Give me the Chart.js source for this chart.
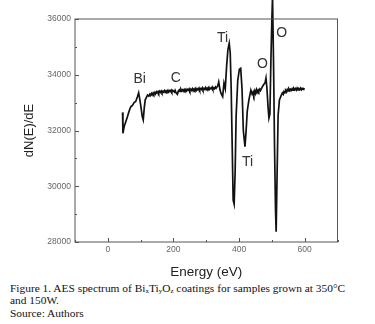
<!DOCTYPE html>
<html>
<head>
<meta charset="utf-8">
<script src="https://cdn.jsdelivr.net/npm/chart.js@4"></script>
<style>
  body { margin: 0; background: #fff; width: 375px; height: 324px; overflow: hidden; }
  #wrap { position: absolute; left: 0; top: 0; width: 375px; height: 280px; }
  #caption {
    position: absolute; left: 10px; top: 281.5px; width: 365px;
    font-family: "Liberation Serif", serif; font-size: 11.4px; line-height: 12.5px; color: #111;
  }
  #caption sub { font-size: 7px; vertical-align: -1px; line-height: 0; }
</style>
</head>
<body>
<div id="wrap"><canvas id="grafico" width="375" height="280"></canvas></div>
<div id="caption">
  Figure 1. AES spectrum of Bi<sub>x</sub>Ti<sub>y</sub>O<sub>z</sub> coatings for samples grown at 350°C<br>
  and 150W.<br>
  Source: Authors
</div>
<script>
// energy (eV) and dN(E)/dE
const energy = [45, 46, 50, 55, 60, 65, 70, 75, 80, 85, 90, 94, 97, 101, 105, 108, 111, 114, 118, 121,
  125, 128, 130, 133, 135, 138, 140, 143, 145, 148, 150, 153, 155, 158, 160, 163, 165, 168, 170, 173,
  175, 178, 180, 183, 185, 188, 190, 193, 195, 198, 200, 203, 205, 208, 212, 215, 218, 220, 223, 225,
  228, 230, 233, 235, 238, 240, 243, 245, 248, 250, 253, 255, 258, 260, 263, 265, 268, 270, 273, 275,
  278, 280, 283, 285, 288, 290, 293, 295, 298, 300, 303, 305, 308, 310, 313, 315, 318, 320, 323, 325,
  328, 330, 335, 338, 342, 346, 350, 354, 358, 362, 366, 370, 373, 376, 379, 382, 385, 388, 391, 396,
  401, 405, 409, 413, 418, 421, 425, 430, 436, 440, 443, 445, 448, 450, 453, 455, 458, 460, 463, 465,
  470, 475, 479, 482, 485, 488, 491, 494, 497, 500, 502, 505, 508, 511, 513, 516, 519, 523, 527, 532,
  535, 537, 540, 542, 545, 547, 550, 552, 555, 557, 560, 562, 565, 567, 570, 572, 575, 577, 580, 582,
  585, 587, 590, 592, 595, 597, 600];
const signal = [32650, 31900, 32150, 32320, 32500, 32700, 32850, 32900, 33000, 33040, 33200, 33350, 33150, 32850, 32500, 32380, 32800, 33100, 33200, 33270,
  33230, 33300, 33260, 33330, 33280, 33350, 33300, 33360, 33310, 33390, 33350, 33400, 33340, 33410, 33370, 33420, 33360, 33410, 33380, 33430,
  33370, 33420, 33390, 33440, 33380, 33430, 33400, 33450, 33390, 33440, 33410, 33380, 33440, 33350, 33300, 33420, 33460, 33400, 33470, 33420,
  33460, 33410, 33470, 33430, 33480, 33420, 33470, 33440, 33490, 33420, 33480, 33440, 33500, 33430, 33490, 33450, 33510, 33440, 33490, 33460,
  33520, 33450, 33500, 33470, 33530, 33460, 33510, 33480, 33540, 33470, 33520, 33490, 33550, 33480, 33520, 33500, 33560, 33490, 33530, 33500,
  33560, 33520, 33600, 33740, 33450, 33300, 33213, 33700, 33500, 34300, 34900, 35130, 34800, 33500, 31500, 29500, 29360, 30500, 32500, 33800,
  34200, 34230, 33500, 32000, 31420, 31900, 32700, 33100, 33450, 33300, 33380, 33280, 33420, 33330, 33460, 33370, 33450, 33400, 33480, 33430,
  33550, 33650, 33700, 33880, 33500, 32900, 32450, 32600, 34500, 36000, 36800, 34500, 31500, 29200, 28370, 30500, 32550, 33100, 33213, 33350,
  33300, 33400, 33360, 33440, 33390, 33470, 33420, 33490, 33430, 33480, 33440, 33500, 33450, 33510, 33460, 33500, 33450, 33520, 33460, 33500,
  33470, 33520, 33460, 33510, 33470, 33500, 33480];

// peak labels
const peakNames = ['Bi', 'C', 'Ti', 'O', 'O', 'Ti'];
const peakE = [97, 207, 350, 471, 530, 426];
const peakV = [33850, 33880, 35320, 34390, 35500, 30870];

const ctx = document.getElementById('grafico').getContext('2d');

const frame = {
  id: 'frame',
  afterDraw(chart) {
    const { ctx, chartArea: a, scales: { x, y } } = chart;
    ctx.save();
    ctx.strokeStyle = '#555';
    ctx.lineWidth = 1;
    ctx.strokeRect(a.left, a.top, a.right - a.left, a.bottom - a.top);
    // inward ticks
    x.ticks.forEach(t => {
      const px = Math.round(x.getPixelForValue(t.value)) + 0.5;
      const len = t.value % 200 === 0 ? 4 : 2;
      ctx.beginPath();
      ctx.moveTo(px, a.bottom);
      ctx.lineTo(px, a.bottom - len);
      ctx.stroke();
    });
    y.ticks.forEach(t => {
      const py = Math.round(y.getPixelForValue(t.value)) + 0.5;
      const len = t.value % 2000 === 0 ? 4 : 2;
      ctx.beginPath();
      ctx.moveTo(a.left, py);
      ctx.lineTo(a.left + len, py);
      ctx.stroke();
    });
    // peak names
    ctx.fillStyle = '#333';
    ctx.font = '14px "Liberation Sans", Arial, sans-serif';
    ctx.textAlign = 'center';
    ctx.textBaseline = 'middle';
    peakNames.forEach((n, i) => {
      ctx.fillText(n, x.getPixelForValue(peakE[i]), y.getPixelForValue(peakV[i]));
    });
    ctx.restore();
  }
};

new Chart(ctx, {
  type: 'line',
  data: {
    datasets: [{
      data: energy.map((e, i) => ({ x: e, y: signal[i] })),
      borderColor: '#111',
      borderWidth: 1.7,
      pointRadius: 0,
      tension: 0,
      clip: false
    }]
  },
  options: {
    responsive: false,
    animation: false,
    layout: { padding: { top: 19, right: 37.5, left: 0, bottom: 0 } },
    plugins: { legend: { display: false }, tooltip: { enabled: false } },
    scales: {
      x: {
        type: 'linear',
        min: -100, max: 700,
        afterFit: s => { s.height = 38; },
        grid: { display: false, drawTicks: false },
        border: { display: false },
        ticks: {
          stepSize: 100, padding: 3, color: '#666', maxRotation: 0, autoSkip: false,
          font: { family: 'Liberation Sans', size: 8.5 },
          callback: v => v % 200 === 0 ? v : ''
        },
        title: {
          display: true, text: 'Energy (eV)', color: '#222',
          font: { family: 'Liberation Sans', size: 13.5 },
          padding: { top: 0, bottom: 0 }
        }
      },
      y: {
        min: 28000, max: 36000,
        afterFit: s => { s.width = 75; },
        grid: { display: false, drawTicks: false },
        border: { display: false },
        ticks: {
          stepSize: 1000, padding: 4, color: '#666', autoSkip: false,
          font: { family: 'Liberation Sans', size: 8.5 },
          callback: v => v % 2000 === 0 ? v : ''
        },
        title: {
          display: true, text: 'dN(E)/dE', color: '#222',
          font: { family: 'Liberation Sans', size: 13 },
          padding: { top: 22, bottom: 0 }
        }
      }
    }
  },
  plugins: [frame]
});
</script>
</body>
</html>
